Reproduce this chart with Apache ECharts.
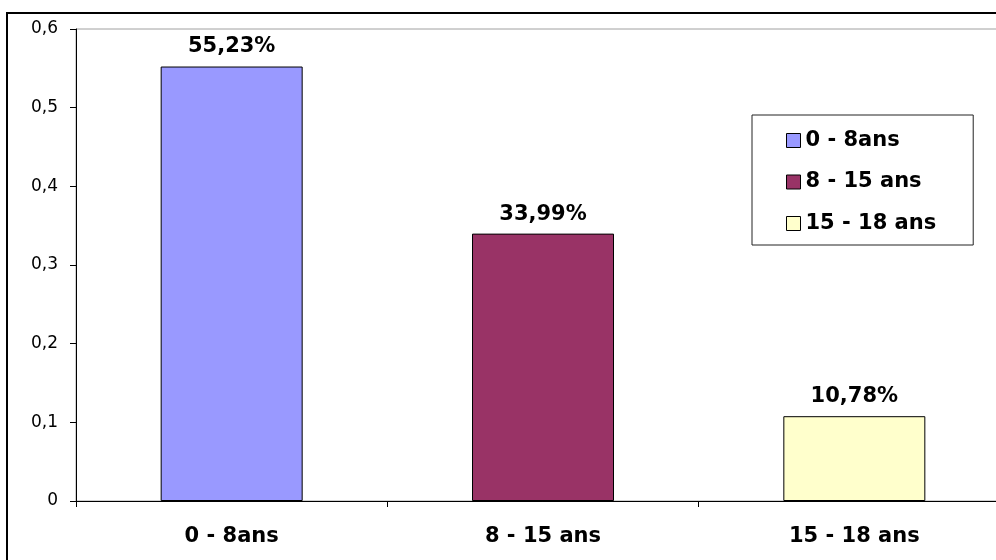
<!DOCTYPE html>
<html>
<head>
<meta charset="utf-8">
<script src="https://cdn.jsdelivr.net/npm/echarts@6/dist/echarts.min.js"></script>
<style>html,body{margin:0;padding:0;background:#fff;overflow:hidden}#c{width:1010px;height:560px}</style>
</head>
<body>
<div id="c"></div>
<script>
const categories = ['0 - 8ans', '8 - 15 ans', '15 - 18 ans'];
const values = [0.5523, 0.3399, 0.1078];
const labels = ['55,23%', '33,99%', '10,78%'];
const colors = ['#9999FF', '#993366', '#FFFFCC'];
const yTicks = [0, 0.1, 0.2, 0.3, 0.4, 0.5, 0.6];

const FONT = '"DejaVu Sans", sans-serif';
const chart = echarts.init(document.getElementById('c'), null, {renderer: 'canvas'});

const series = categories.map((name, i) => ({
  name: name,
  type: 'bar',
  stack: 'all',
  barWidth: 142,
  data: categories.map((c, j) => j === i ? values[i] : '-'),
  itemStyle: {color: colors[i], borderColor: '#000', borderWidth: 1},
  label: {
    show: true,
    position: 'top',
    distance: 9,
    formatter: () => labels[i],
    color: '#000',
    fontFamily: FONT,
    fontWeight: 'bold',
    fontSize: 21
  },
  emphasis: {disabled: true},
  animation: false
}));

chart.setOption({
  animation: false,
  grid: {left: 76, top: 29, bottom: 59, right: 0, show: true, borderColor: '#a0a0a0', borderWidth: 1},
  legend: {
    orient: 'vertical',
    left: 752,
    top: 115,
    data: categories,
    icon: 'rect',
    itemWidth: 14,
    itemHeight: 14,
    itemGap: 20.5,
    itemTextGap: 9,
    padding: [15, 37, 11, 34],
    borderColor: '#222',
    borderWidth: 1,
    backgroundColor: '#fff',
    itemStyle: {borderColor: '#000', borderWidth: 1},
    textStyle: {color: '#000', fontFamily: FONT, fontWeight: 'bold', fontSize: 21}
  },
  xAxis: {
    type: 'category',
    data: categories,
    axisLine: {lineStyle: {color: '#000', width: 1}},
    axisTick: {show: true, length: 6, lineStyle: {color: '#000'}},
    axisLabel: {color: '#000', fontFamily: FONT, fontWeight: 'bold', fontSize: 21, margin: 25},
    splitLine: {show: false}
  },
  yAxis: {
    type: 'value',
    min: 0,
    max: 0.6,
    interval: 0.1,
    axisLine: {show: true, lineStyle: {color: '#000', width: 1}},
    axisTick: {show: true, length: 6, lineStyle: {color: '#000'}},
    axisLabel: {
      color: '#000', fontFamily: FONT, fontSize: 17, margin: 18,
      formatter: v => {
        const t = yTicks.find(x => Math.abs(x - v) < 1e-9);
        return String(Math.round((t !== undefined ? t : v) * 10) / 10).replace('.', ',');
      }
    },
    splitLine: {show: false}
  },
  graphic: [{
    type: 'rect',
    silent: true,
    z: 100,
    shape: {x: 7, y: 13, width: 1020, height: 600},
    style: {fill: 'none', stroke: '#000', lineWidth: 2}
  }],
  series: series
});
</script>
</body>
</html>
